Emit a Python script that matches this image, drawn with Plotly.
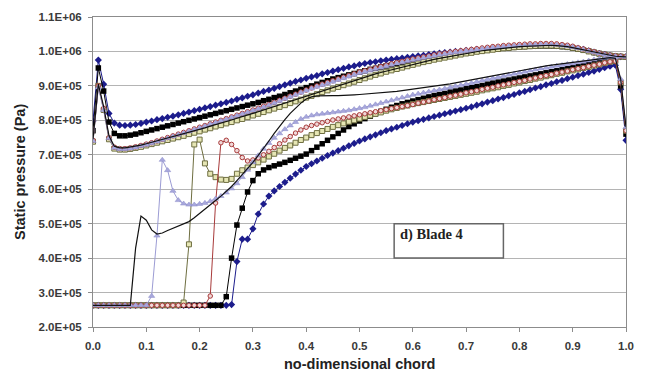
import plotly.graph_objects as go

# chord positions (common grid, step 0.01)
chord = [i / 100 for i in range(101)]

# pressure-side (upper) curves, in units of 1E+05 Pa
blue_up = [7.98, 9.75, 9.05, 8.2, 7.92, 7.86, 7.85, 7.86, 7.88, 7.91,
           7.95, 7.98, 8.02, 8.05, 8.09, 8.12, 8.16, 8.2, 8.24, 8.28,
           8.32, 8.36, 8.4, 8.44, 8.48, 8.52, 8.56, 8.61, 8.65, 8.7,
           8.74, 8.79, 8.84, 8.88, 8.93, 8.98, 9.03, 9.08, 9.13, 9.17,
           9.22, 9.26, 9.3, 9.35, 9.39, 9.43, 9.47, 9.51, 9.55, 9.58,
           9.62, 9.65, 9.68, 9.7, 9.73, 9.75, 9.77, 9.79, 9.81, 9.83,
           9.85, 9.87, 9.89, 9.91, 9.93, 9.95, 9.97, 9.98, 10.0, 10.01,
           10.03, 10.04, 10.06, 10.07, 10.08, 10.1, 10.11, 10.12, 10.13, 10.14,
           10.15, 10.16, 10.17, 10.17, 10.18, 10.18, 10.18, 10.17, 10.16, 10.14,
           10.12, 10.09, 10.06, 10.02, 9.98, 9.94, 9.91, 9.88, 9.86, 9.85,
           9.85]
bsq_up = [7.7, 9.52, 8.85, 7.95, 7.62, 7.55, 7.55, 7.57, 7.6, 7.64,
          7.68, 7.72, 7.76, 7.8, 7.84, 7.88, 7.92, 7.96, 8.0, 8.04,
          8.08, 8.12, 8.16, 8.2, 8.24, 8.28, 8.32, 8.36, 8.4, 8.44,
          8.48, 8.52, 8.57, 8.61, 8.66, 8.7, 8.75, 8.8, 8.85, 8.9,
          8.95, 9.0, 9.05, 9.1, 9.15, 9.2, 9.24, 9.28, 9.32, 9.36,
          9.4, 9.44, 9.48, 9.51, 9.55, 9.58, 9.61, 9.64, 9.67, 9.7,
          9.73, 9.76, 9.79, 9.82, 9.84, 9.87, 9.89, 9.91, 9.93, 9.95,
          9.97, 9.99, 10.01, 10.03, 10.05, 10.07, 10.08, 10.1, 10.11, 10.12,
          10.13, 10.14, 10.15, 10.15, 10.16, 10.16, 10.16, 10.15, 10.14, 10.12,
          10.1, 10.07, 10.04, 10.01, 9.97, 9.94, 9.91, 9.88, 9.86, 9.85,
          9.84]
red_up = [7.42, 9.0, 8.35, 7.5, 7.22, 7.18, 7.18, 7.2, 7.23, 7.27,
          7.31, 7.35, 7.4, 7.45, 7.5, 7.55, 7.6, 7.65, 7.7, 7.75,
          7.8, 7.85, 7.9, 7.95, 8.0, 8.05, 8.1, 8.15, 8.2, 8.25,
          8.3, 8.35, 8.41, 8.46, 8.52, 8.58, 8.64, 8.7, 8.76, 8.82,
          8.88, 8.94, 9.0, 9.05, 9.1, 9.15, 9.2, 9.25, 9.3, 9.35,
          9.4, 9.44, 9.48, 9.52, 9.56, 9.6, 9.64, 9.68, 9.71, 9.75,
          9.78, 9.81, 9.84, 9.87, 9.9, 9.93, 9.95, 9.98, 10.0, 10.02,
          10.04, 10.06, 10.08, 10.1, 10.12, 10.14, 10.15, 10.17, 10.18, 10.19,
          10.2, 10.21, 10.22, 10.22, 10.23, 10.23, 10.23, 10.22, 10.2, 10.18,
          10.15, 10.11, 10.07, 10.03, 9.99, 9.95, 9.92, 9.89, 9.87, 9.86,
          9.85]
lav_up = [7.4, 8.95, 8.3, 7.48, 7.2, 7.16, 7.16, 7.18, 7.21, 7.25,
          7.29, 7.33, 7.38, 7.43, 7.48, 7.53, 7.58, 7.63, 7.68, 7.73,
          7.78, 7.83, 7.88, 7.93, 7.98, 8.03, 8.08, 8.13, 8.18, 8.23,
          8.28, 8.33, 8.38, 8.44, 8.5, 8.56, 8.62, 8.68, 8.74, 8.8,
          8.86, 8.92, 8.97, 9.02, 9.07, 9.12, 9.17, 9.22, 9.27, 9.32,
          9.37, 9.41, 9.45, 9.49, 9.53, 9.57, 9.61, 9.65, 9.68, 9.72,
          9.75, 9.78, 9.81, 9.84, 9.87, 9.9, 9.92, 9.95, 9.97, 9.99,
          10.01, 10.03, 10.05, 10.07, 10.09, 10.11, 10.12, 10.14, 10.15, 10.16,
          10.17, 10.18, 10.19, 10.19, 10.2, 10.2, 10.2, 10.19, 10.17, 10.15,
          10.12, 10.09, 10.05, 10.01, 9.97, 9.94, 9.91, 9.88, 9.86, 9.85,
          9.84]
grn_up = [7.38, 9.0, 8.3, 7.45, 7.18, 7.15, 7.15, 7.17, 7.2, 7.23,
          7.27, 7.31, 7.35, 7.39, 7.43, 7.47, 7.51, 7.55, 7.6, 7.64,
          7.68, 7.73, 7.77, 7.82, 7.86, 7.91, 7.95, 8.0, 8.04, 8.09,
          8.14, 8.19, 8.24, 8.29, 8.34, 8.39, 8.44, 8.5, 8.55, 8.6,
          8.66, 8.71, 8.76, 8.82, 8.87, 8.92, 8.97, 9.02, 9.07, 9.12,
          9.17, 9.22, 9.27, 9.32, 9.36, 9.41, 9.45, 9.49, 9.53, 9.57,
          9.61, 9.65, 9.69, 9.72, 9.76, 9.79, 9.82, 9.85, 9.88, 9.91,
          9.94, 9.96, 9.99, 10.01, 10.03, 10.05, 10.07, 10.09, 10.1, 10.12,
          10.13, 10.14, 10.15, 10.16, 10.17, 10.17, 10.17, 10.16, 10.15, 10.13,
          10.1, 10.07, 10.04, 10.0, 9.97, 9.93, 9.9, 9.88, 9.86, 9.85,
          9.84]
line_up = [7.45, 9.05, 8.4, 7.55, 7.25, 7.2, 7.2, 7.22, 7.25, 7.28,
           7.32, 7.36, 7.4, 7.44, 7.48, 7.52, 7.56, 7.61, 7.65, 7.7,
           7.74, 7.78, 7.83, 7.87, 7.92, 7.96, 8.01, 8.06, 8.1, 8.15,
           8.2, 8.25, 8.3, 8.35, 8.4, 8.45, 8.51, 8.56, 8.61, 8.67,
           8.72, 8.77, 8.82, 8.87, 8.92, 8.97, 9.02, 9.07, 9.12, 9.17,
           9.22, 9.26, 9.31, 9.35, 9.39, 9.43, 9.47, 9.51, 9.55, 9.59,
           9.63, 9.66, 9.7, 9.73, 9.77, 9.8, 9.83, 9.86, 9.89, 9.92,
           9.95, 9.97, 10.0, 10.02, 10.04, 10.06, 10.08, 10.1, 10.11, 10.13,
           10.14, 10.15, 10.16, 10.17, 10.18, 10.18, 10.18, 10.17, 10.16, 10.14,
           10.11, 10.08, 10.05, 10.01, 9.97, 9.94, 9.91, 9.88, 9.86, 9.85,
           9.84]

# suction-side (lower) curves, in units of 1E+05 Pa
line_lo = [2.63, 2.63, 2.63, 2.63, 2.63, 2.63, 2.63, 2.63, 4.3, 5.22,
           5.1, 4.82, 4.7, 4.73, 4.8, 4.86, 4.92, 4.98, 5.06, 5.17,
           5.29, 5.41, 5.54, 5.67, 5.8, 5.94, 6.08, 6.25, 6.42, 6.6,
           6.78, 6.98, 7.18, 7.4, 7.62, 7.83, 8.02, 8.2, 8.36, 8.5,
           8.62, 8.68, 8.71, 8.72, 8.72, 8.72, 8.72, 8.72, 8.73, 8.74,
           8.75, 8.76, 8.77, 8.78, 8.79, 8.8, 8.82, 8.84, 8.86, 8.88,
           8.9, 8.92, 8.94, 8.96, 8.98, 9.0, 9.03, 9.06, 9.09, 9.12,
           9.15, 9.18, 9.21, 9.24, 9.27, 9.3, 9.33, 9.36, 9.39, 9.42,
           9.45, 9.48, 9.5, 9.53, 9.55, 9.58, 9.6, 9.62, 9.64, 9.66,
           9.68, 9.7, 9.72, 9.74, 9.76, 9.78, 9.8, 9.82, 9.8, 9.2,
           7.8]
lav_lo = [2.63, 2.63, 2.63, 2.63, 2.63, 2.63, 2.63, 2.63, 2.63, 2.63,
          2.63, 2.9, 4.65, 6.85, 6.55, 5.95, 5.68, 5.58, 5.55, 5.55,
          5.57, 5.6, 5.65, 5.72, 5.8, 5.9, 6.02, 6.17, 6.35, 6.56,
          6.78, 6.98, 7.17, 7.34, 7.49, 7.62, 7.74, 7.85, 7.95, 8.04,
          8.1, 8.14, 8.17, 8.19, 8.21, 8.23, 8.25, 8.27, 8.29, 8.32,
          8.35, 8.38, 8.42, 8.46, 8.5, 8.54, 8.58, 8.62, 8.66, 8.7,
          8.74, 8.77, 8.8, 8.83, 8.86, 8.89, 8.92, 8.95, 8.99, 9.02,
          9.05, 9.08, 9.12, 9.15, 9.19, 9.22, 9.25, 9.28, 9.32, 9.35,
          9.38, 9.41, 9.44, 9.47, 9.5, 9.52, 9.55, 9.58, 9.6, 9.63,
          9.65, 9.68, 9.7, 9.73, 9.76, 9.79, 9.81, 9.83, 9.82, 9.2,
          7.8]
grn_lo = [2.63, 2.63, 2.63, 2.63, 2.63, 2.63, 2.63, 2.63, 2.63, 2.63,
          2.63, 2.63, 2.63, 2.63, 2.63, 2.63, 2.63, 2.71, 4.4, 7.3,
          7.44, 6.75, 6.45, 6.35, 6.28, 6.27, 6.3, 6.45, 6.55, 6.63,
          6.7, 6.78, 6.86, 6.95, 7.03, 7.12, 7.2, 7.27, 7.35, 7.43,
          7.5, 7.57, 7.63, 7.69, 7.75, 7.81, 7.86, 7.91, 7.96, 8.0,
          8.05, 8.1, 8.14, 8.19, 8.23, 8.28, 8.32, 8.36, 8.4, 8.43,
          8.47, 8.5, 8.53, 8.56, 8.59, 8.62, 8.65, 8.68, 8.71, 8.74,
          8.77, 8.8, 8.83, 8.87, 8.9, 8.93, 8.96, 9.0, 9.03, 9.07,
          9.1, 9.14, 9.17, 9.21, 9.24, 9.28, 9.31, 9.35, 9.38, 9.42,
          9.45, 9.48, 9.52, 9.55, 9.59, 9.62, 9.66, 9.7, 9.72, 9.1,
          7.7]
red_lo = [2.63, 2.63, 2.63, 2.63, 2.63, 2.63, 2.63, 2.63, 2.63, 2.63,
          2.63, 2.63, 2.63, 2.63, 2.63, 2.63, 2.63, 2.63, 2.63, 2.63,
          2.63, 2.63, 2.9, 5.6, 7.35, 7.42, 7.3, 7.12, 6.92, 6.82,
          6.85, 6.91, 7.0, 7.1, 7.21, 7.32, 7.43, 7.53, 7.63, 7.72,
          7.8, 7.85, 7.89, 7.93, 7.97, 8.01, 8.04, 8.07, 8.1, 8.13,
          8.16, 8.19, 8.22, 8.25, 8.28, 8.31, 8.34, 8.37, 8.4, 8.43,
          8.46, 8.5, 8.53, 8.56, 8.6, 8.63, 8.66, 8.7, 8.73, 8.76,
          8.8, 8.83, 8.86, 8.9, 8.93, 8.96, 9.0, 9.03, 9.06, 9.1,
          9.13, 9.16, 9.2, 9.23, 9.27, 9.3, 9.33, 9.37, 9.4, 9.43,
          9.47, 9.5, 9.53, 9.57, 9.6, 9.63, 9.67, 9.7, 9.72, 9.1,
          7.7]
bsq_lo = [2.63, 2.63, 2.63, 2.63, 2.63, 2.63, 2.63, 2.63, 2.63, 2.63,
          2.63, 2.63, 2.63, 2.63, 2.63, 2.63, 2.63, 2.63, 2.63, 2.63,
          2.63, 2.63, 2.63, 2.63, 2.63, 2.88, 4.0, 4.96, 5.45, 5.92,
          6.25, 6.45, 6.56, 6.63, 6.68, 6.73, 6.78, 6.84, 6.9, 6.96,
          7.02, 7.12, 7.22, 7.32, 7.42, 7.52, 7.62, 7.72, 7.82, 7.9,
          7.98, 8.05, 8.12, 8.19, 8.26, 8.32, 8.38, 8.43, 8.48, 8.52,
          8.56, 8.6, 8.64, 8.68, 8.72, 8.75, 8.78, 8.82, 8.85, 8.88,
          8.92, 8.95, 8.98, 9.01, 9.05, 9.08, 9.11, 9.14, 9.17, 9.2,
          9.23, 9.26, 9.29, 9.32, 9.35, 9.38, 9.41, 9.44, 9.47, 9.5,
          9.53, 9.56, 9.59, 9.63, 9.67, 9.72, 9.75, 9.78, 9.75, 9.0,
          7.6]
blue_lo = [2.63, 2.63, 2.63, 2.63, 2.63, 2.63, 2.63, 2.63, 2.63, 2.63,
           2.63, 2.63, 2.63, 2.63, 2.63, 2.63, 2.63, 2.63, 2.63, 2.63,
           2.63, 2.63, 2.63, 2.63, 2.63, 2.63, 2.65, 3.9, 4.55, 4.55,
           4.85, 5.28, 5.57, 5.8, 5.95, 6.08, 6.2, 6.32, 6.44, 6.55,
           6.66, 6.74, 6.82, 6.9, 6.98, 7.05, 7.12, 7.19, 7.26, 7.33,
           7.4, 7.46, 7.52, 7.58, 7.64, 7.7, 7.75, 7.8, 7.85, 7.9,
           7.95, 7.99, 8.03, 8.07, 8.11, 8.15, 8.19, 8.23, 8.27, 8.31,
           8.35, 8.39, 8.44, 8.48, 8.53, 8.57, 8.62, 8.66, 8.71, 8.75,
           8.8, 8.84, 8.89, 8.94, 8.98, 9.03, 9.07, 9.12, 9.16, 9.21,
           9.25, 9.3, 9.34, 9.39, 9.43, 9.48, 9.53, 9.57, 9.6, 8.9,
           7.42]

y_ticks = [2e5, 3e5, 4e5, 5e5, 6e5, 7e5, 8e5, 9e5, 1e6, 1.1e6]
y_labels = ["2.0E+05", "3.0E+05", "4.0E+05", "5.0E+05", "6.0E+05",
            "7.0E+05", "8.0E+05", "9.0E+05", "1.0E+06", "1.1E+06"]
x_ticks = [0.0, 0.1, 0.2, 0.3, 0.4, 0.5, 0.6, 0.7, 0.8, 0.9, 1.0]
x_labels = ["0.0", "0.1", "0.2", "0.3", "0.4", "0.5", "0.6", "0.7", "0.8", "0.9", "1.0"]

SCALE = 1e5

styles = {
    "blue": dict(mode="lines+markers", line=dict(color="#1c1c8c", width=1),
                 marker=dict(symbol="diamond", size=5.5, color="#1c1c8c")),
    "bsq": dict(mode="lines+markers", line=dict(color="#000000", width=1),
                marker=dict(symbol="square", size=5.5, color="#000000")),
    "grn": dict(mode="lines+markers", line=dict(color="#6e6e40", width=1),
                marker=dict(symbol="square", size=5, color="#e6e6b4",
                            line=dict(color="#6e6e40", width=1))),
    "red": dict(mode="lines+markers", line=dict(color="#a83a3a", width=1),
                marker=dict(symbol="circle", size=4.5, color="#f0d8d8",
                            line=dict(color="#a83a3a", width=1))),
    "lav": dict(mode="lines+markers", line=dict(color="#9c9cd4", width=1),
                marker=dict(symbol="triangle-up", size=5.5, color="#a8a8dc",
                            line=dict(color="#8a8ac8", width=0.5))),
    "line": dict(mode="lines", line=dict(color="#111111", width=1.2)),
}

series = [
    ("blue", blue_up, blue_lo),
    ("bsq", bsq_up, bsq_lo),
    ("grn", grn_up, grn_lo),
    ("red", red_up, red_lo),
    ("lav", lav_up, lav_lo),
    ("line", line_up, line_lo),
]

fig = go.Figure()
for key, up, lo in series:
    for vals in (up, lo):
        fig.add_trace(go.Scatter(x=chord, y=[v * SCALE for v in vals],
                                 showlegend=False, hoverinfo="skip",
                                 **styles[key]))

fig.add_shape(type="rect", xref="x", yref="y", x0=0.565, x1=0.77, y0=4e5, y1=5e5,
              line=dict(color="#666666", width=1.5), fillcolor="white", layer="above")
fig.add_annotation(x=0.573, y=4.7e5, xref="x", yref="y", text="<b>d) Blade 4</b>",
                   showarrow=False, xanchor="left", yanchor="middle",
                   font=dict(family="Liberation Serif", size=14.5, color="#222222"))

fig.add_annotation(x=-0.137, y=0.5, xref="paper", yref="paper",
                   text="<b>Static pressure (Pa)</b>", textangle=-90, showarrow=False,
                   xanchor="center", yanchor="middle",
                   font=dict(family="Liberation Sans", size=14.5, color="#222222"))
fig.add_annotation(x=0.5, y=-0.12, xref="paper", yref="paper",
                   text="<b>no-dimensional chord</b>", showarrow=False, yanchor="middle",
                   font=dict(family="Liberation Sans", size=14.5, color="#222222"))

tick_font = dict(family="Liberation Sans", size=11.5, color="#3a3a3a")
fig.update_layout(
    width=645, height=385,
    margin=dict(l=93, r=18, t=11, b=58),
    paper_bgcolor="white", plot_bgcolor="white",
    font=dict(family="Liberation Sans", size=11, color="#333333"),
    xaxis=dict(range=[0, 1], tickvals=x_ticks,
               ticktext=["<b>%s</b>" % s for s in x_labels],
               showgrid=False, zeroline=False, showline=True, linecolor="#8c8c8c",
               linewidth=1, mirror=True, ticks="outside", ticklen=4, tickcolor="#8c8c8c",
               ticklabelstandoff=4, tickfont=tick_font),
    yaxis=dict(range=[2e5, 1.1e6], tickvals=y_ticks,
               ticktext=["<b>%s</b>" % s for s in y_labels],
               showgrid=True, gridcolor="#b4b4b4", gridwidth=1, zeroline=False,
               showline=True, linecolor="#8c8c8c", linewidth=1, mirror=True,
               ticks="outside", ticklen=4, tickcolor="#8c8c8c",
               ticklabelstandoff=4, tickfont=tick_font),
)

fig.write_html("out.html")
